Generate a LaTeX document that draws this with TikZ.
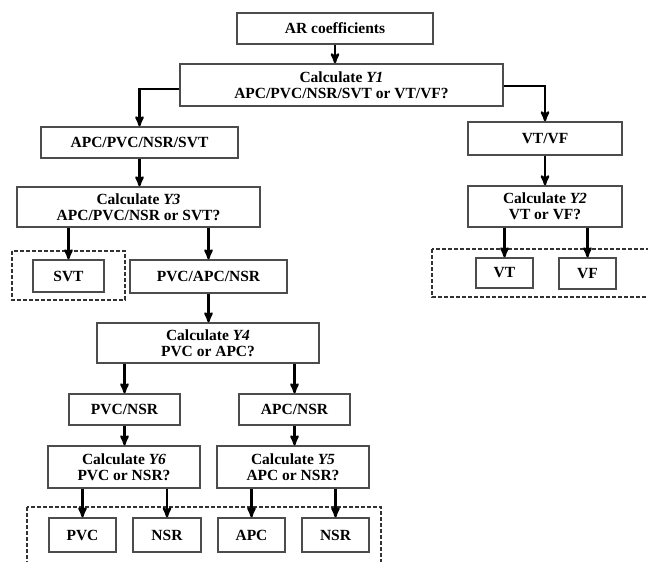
\documentclass[tikz,border=0pt]{standalone}
\usepackage{fontspec}
\setmainfont{Liberation Serif}
\usetikzlibrary{arrows}

\begin{document}
\begin{tikzpicture}[x=1pt,y=-1pt,->,>=stealth',
	box/.style={draw=black!70,line width=1.4pt,align=center,inner sep=0pt,
		font=\fontsize{15.5}{16}\selectfont\bfseries},
	arr/.style={line width=2.3pt},
	group/.style={-,draw=black!80,line width=1.4pt,dash pattern=on 4pt off 2pt}]
				\useasboundingbox (0,0) rectangle (648,562);
				\clip (0,0) rectangle (648,562);
				\draw[group] (12,251) rectangle (125,300);
				\draw[group] (432,249) rectangle (670,297);
				\draw[group] (27,507) rectangle (381,580);
				\node [box,minimum width=196pt,minimum height=31pt] (ar) at (335,28.5) {AR coefficients};
				\node [box,minimum width=323pt,minimum height=42pt] (y1) at (341.5,85) {Calculate \textit{Y1}\\APC/PVC/NSR/SVT or VT/VF?};
				\node [box,minimum width=197pt,minimum height=31pt] (all) at (139.5,142.5) {APC/PVC/NSR/SVT};
				\node [box,minimum width=154pt,minimum height=33pt] (vtvf) at (545,138.5) {VT/VF};
				\node [box,minimum width=243pt,minimum height=40pt] (y3) at (138.5,207) {Calculate \textit{Y3}\\APC/PVC/NSR or SVT?};
				\node [box,minimum width=154pt,minimum height=41pt] (y2) at (545,206.5) {Calculate \textit{Y2}\\VT or VF?};
				\node [box,minimum width=71pt,minimum height=32pt] (svt) at (68.5,276) {SVT};
				\node [box,minimum width=157pt,minimum height=33pt] (pan) at (208.5,276.5) {PVC/APC/NSR};
				\node [box,minimum width=57pt,minimum height=30pt] (vt) at (504.5,273) {VT};
				\node [box,minimum width=57pt,minimum height=31pt] (vf) at (587.5,273.5) {VF};
				\node [box,minimum width=222pt,minimum height=40pt] (y4) at (208,343) {Calculate \textit{Y4}\\PVC or APC?};
				\node [box,minimum width=111pt,minimum height=31pt] (pn) at (124.5,409.5) {PVC/NSR};
				\node [box,minimum width=111pt,minimum height=31pt] (an) at (294.5,409.5) {APC/NSR};
				\node [box,minimum width=152pt,minimum height=42pt] (y6) at (124,467) {Calculate \textit{Y6}\\PVC or NSR?};
				\node [box,minimum width=152pt,minimum height=42pt] (y5) at (293,467) {Calculate \textit{Y5}\\APC or NSR?};
				\node [box,minimum width=67pt,minimum height=34pt] (pvc) at (82.5,535) {PVC};
				\node [box,minimum width=68pt,minimum height=34pt] (nsr1) at (167,535) {NSR};
				\node [box,minimum width=67pt,minimum height=34pt] (apc) at (251.5,535) {APC};
				\node [box,minimum width=67pt,minimum height=34pt] (nsr2) at (335.5,535) {NSR};
				\draw[arr] ([yshift=-4pt]y1.west) -| (all.north);
				\draw[arr] ([yshift=-1pt]y1.east) -| (vtvf.north);
				\foreach \a/\b in {ar/y1,all/y3,vtvf/y2,pan/y4,pn/y6,an/y5}
						\draw[arr] (\a.south) -- (\a.south |- \b.north);
				\foreach \a/\b in {y3/svt,y3/pan,y2/vt,y2/vf,y4/pn,y4/an,y6/pvc,y6/nsr1,y5/apc,y5/nsr2}
						\draw[arr] (\a.south -| \b) -- (\b.north);
			\end{tikzpicture}
\end{document}
